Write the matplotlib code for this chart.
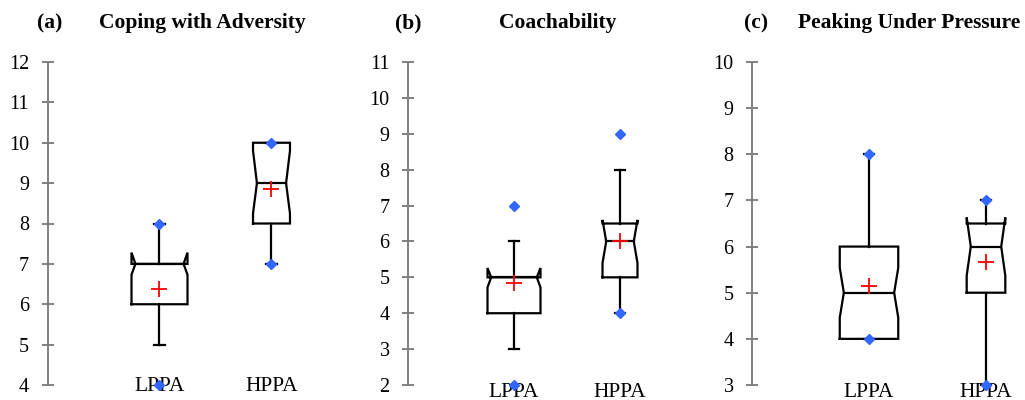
import matplotlib
matplotlib.use('Agg')
import matplotlib.pyplot as plt

plt.rcParams['font.family'] = ['Liberation Serif', 'DejaVu Serif']

# groups and panel titles
groups = ['LPPA', 'HPPA']
panel_tags = ['(a)', '(b)', '(c)']
panel_titles = ['Coping with Adversity', 'Coachability', 'Peaking Under Pressure']
y_limits = [(4, 12), (2, 11), (3, 10)]

# box statistics per panel, [LPPA, HPPA]
q1 = [[6, 8], [4, 5], [4, 5]]
median = [[7, 9], [5, 6], [5, 6]]
q3 = [[7, 10], [5, 6.5], [6, 6.5]]
notch_lo = [[6.73, 8.25], [4.72, 5.4], [4.46, 5.37]]
notch_hi = [[7.28, 9.8], [5.26, 6.6], [5.54, 6.63]]
whisker_lo = [[5, 7], [3, 4], [4, 3]]
whisker_hi = [[8, 10], [6, 8], [8, 7]]
means = [[6.37, 8.85], [4.83, 6.0], [5.15, 5.67]]
minimum = [[4, 7], [2, 4], [4, 3]]
maximum = [[8, 10], [7, 9], [8, 7]]

fig = plt.figure(figsize=(10.25, 4), dpi=100)

# layout in pixels: spine x, pixels per x unit, label offset
spine_x = [47.5, 408, 752]
unit_px = [112, 106, 117]
label_pad = [-6.0, -1.5, -1.5]
tag_x = [50, 408, 756]
title_x = [202, 558, 909]
widths = [0.5, 0.33]
inset = 0.035
cap = 0.045

for i in range(3):
    left = spine_x[i] / 1025
    width = 2.3 * unit_px[i] / 1025
    ax = fig.add_axes([left, 15 / 400, width, 323 / 400])
    ax.set_xlim(0, 2.3)
    ax.set_ylim(*y_limits[i])
    lo, hi = y_limits[i]
    ax.set_yticks(range(lo, hi + 1))
    ax.set_xticks([1, 2])
    ax.set_xticklabels(groups)

    for j in range(2):
        p = j + 1
        h = widths[j] / 2
        xs = [p - h, p - h, p - h + inset, p - h, p - h,
              p + h, p + h, p + h - inset, p + h, p + h, p - h]
        ys = [q1[i][j], notch_lo[i][j], median[i][j], notch_hi[i][j], q3[i][j],
              q3[i][j], notch_hi[i][j], median[i][j], notch_lo[i][j], q1[i][j], q1[i][j]]
        ax.plot(xs, ys, color='black', lw=1.6, solid_joinstyle='miter', clip_on=False)
        # median line
        ax.plot([p - h + inset, p + h - inset], [median[i][j]] * 2, color='black', lw=1.6)
        # whiskers and caps
        ax.plot([p, p], [whisker_lo[i][j], q1[i][j]], color='black', lw=1.6, clip_on=False)
        ax.plot([p, p], [q3[i][j], whisker_hi[i][j]], color='black', lw=1.6, clip_on=False)
        ax.plot([p - cap, p + cap], [whisker_lo[i][j]] * 2, color='black', lw=1.6, clip_on=False)
        ax.plot([p - cap, p + cap], [whisker_hi[i][j]] * 2, color='black', lw=1.6, clip_on=False)
        # min / max and mean
        ax.plot([p, p], [minimum[i][j], maximum[i][j]], ls='none', marker='D', ms=5,
                color='#3366ff', clip_on=False, zorder=5)
        ax.plot(p, means[i][j], marker='+', ms=12, mew=1.3, color='red', zorder=6)

    for s in ['top', 'right', 'bottom']:
        ax.spines[s].set_visible(False)
    ax.spines['left'].set_color('#808080')
    ax.spines['left'].set_linewidth(1.4)
    ax.tick_params(axis='y', direction='inout', length=8.5, width=1.4, color='#808080',
                   labelsize=14.5, pad=9)
    ax.tick_params(axis='x', length=0, labelsize=15.5, pad=label_pad[i])

    fig.text(tag_x[i] / 1025, 1 - 23 / 400, panel_tags[i], ha='center', va='center',
             fontsize=15.5, fontweight='bold')
    fig.text(title_x[i] / 1025, 1 - 23 / 400, panel_titles[i], ha='center', va='center',
             fontsize=15.5, fontweight='bold')

fig.savefig('out.png', dpi=100)
